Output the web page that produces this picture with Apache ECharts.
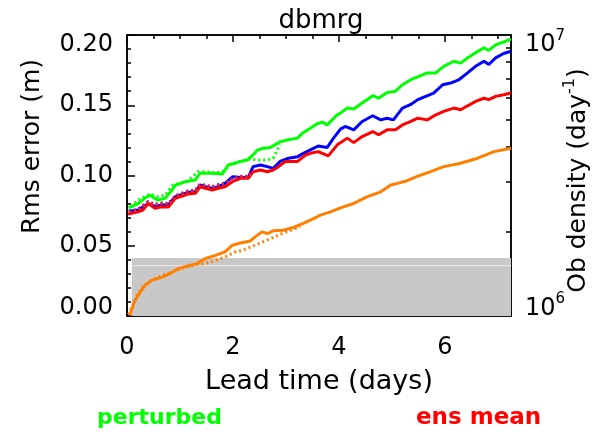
<!DOCTYPE html>
<html><head><meta charset="utf-8">
<script src="https://cdn.jsdelivr.net/npm/echarts@6/dist/echarts.min.js"></script>
<style>html,body{margin:0;padding:0;background:#fff}#c{width:594px;height:438px}</style>
</head><body><div id="c"></div>
<script>
// ---- data: [lead time (days), rms error (m)] ----
const perturbedSolid = [[0.03,0.077],[0.21,0.080],[0.34,0.084],[0.44,0.086],[0.57,0.0825],[0.72,0.0837],[0.85,0.0896],[0.91,0.093],[1.10,0.0956],[1.29,0.0968],[1.38,0.1016],[1.61,0.1016],[1.80,0.101],[1.91,0.1075],[2.04,0.1087],[2.14,0.110],[2.27,0.111],[2.38,0.1146],[2.46,0.118],[2.57,0.1194],[2.71,0.120],[2.89,0.124],[3.05,0.1254],[3.22,0.1266],[3.31,0.130],[3.46,0.1337],[3.59,0.1368],[3.69,0.138],[3.78,0.136],[3.97,0.1432],[4.03,0.1444],[4.16,0.148],[4.28,0.1473],[4.44,0.1516],[4.64,0.1568],[4.75,0.155],[4.91,0.159],[5.07,0.160],[5.20,0.1646],[5.35,0.168],[5.51,0.1706],[5.67,0.173],[5.83,0.173],[5.98,0.1777],[6.17,0.1813],[6.30,0.180],[6.43,0.1837],[6.58,0.1873],[6.74,0.1909],[6.83,0.189],[6.96,0.193],[7.11,0.195],[7.25,0.197]];
const perturbedDotted = [[0.08,0.0777],[0.21,0.0825],[0.34,0.085],[0.44,0.0868],[0.57,0.0849],[0.72,0.086],[0.87,0.0932],[1.00,0.0944],[1.15,0.0961],[1.34,0.1027],[1.48,0.1027],[1.63,0.102],[1.80,0.1025],[1.95,0.108],[2.14,0.110],[2.33,0.112],[2.48,0.111],[2.65,0.111],[2.76,0.1123],[2.89,0.122]];
const controlSolid = [[0.03,0.0745],[0.21,0.0755],[0.40,0.080],[0.53,0.078],[0.66,0.079],[0.78,0.079],[0.91,0.085],[1.04,0.0865],[1.15,0.088],[1.29,0.0885],[1.38,0.0932],[1.48,0.092],[1.61,0.091],[1.72,0.092],[1.85,0.0944],[1.99,0.0991],[2.14,0.0985],[2.29,0.0985],[2.38,0.1063],[2.52,0.1075],[2.65,0.1063],[2.76,0.1051],[2.89,0.110],[3.05,0.1123],[3.22,0.1134],[3.33,0.1158],[3.50,0.119],[3.61,0.121],[3.78,0.120],[3.90,0.1266],[4.03,0.133],[4.12,0.1349],[4.28,0.1325],[4.44,0.1384],[4.64,0.1425],[4.79,0.1396],[4.91,0.1408],[5.03,0.1396],[5.20,0.148],[5.35,0.1504],[5.49,0.154],[5.64,0.1563],[5.79,0.1587],[5.96,0.1646],[6.11,0.1658],[6.26,0.168],[6.43,0.173],[6.58,0.1777],[6.74,0.1813],[6.83,0.179],[6.96,0.1837],[7.11,0.1868],[7.25,0.1884]];
const controlDotted = [[0.04,0.0745],[0.21,0.0760],[0.40,0.0815],[0.53,0.0795],[0.66,0.0805],[0.78,0.080],[0.91,0.0855],[1.04,0.0875],[1.15,0.089],[1.29,0.0895],[1.38,0.094],[1.48,0.093],[1.61,0.092],[1.72,0.0935],[1.85,0.0945],[1.99,0.098],[2.14,0.0995],[2.29,0.0995],[2.38,0.1035]];
const ensMeanSolid = [[0.02,0.0725],[0.21,0.0741],[0.30,0.0754],[0.40,0.080],[0.53,0.0766],[0.66,0.0777],[0.78,0.0775],[0.91,0.0837],[1.04,0.0854],[1.15,0.0868],[1.29,0.0873],[1.38,0.092],[1.48,0.0909],[1.61,0.0896],[1.72,0.0909],[1.85,0.092],[1.99,0.0956],[2.14,0.098],[2.29,0.098],[2.38,0.1027],[2.52,0.1039],[2.65,0.1027],[2.76,0.1039],[2.86,0.1063],[2.99,0.110],[3.22,0.110],[3.37,0.1146],[3.46,0.1158],[3.61,0.117],[3.80,0.114],[3.97,0.1218],[4.16,0.1266],[4.28,0.1234],[4.44,0.1277],[4.64,0.1313],[4.75,0.129],[4.91,0.1325],[5.07,0.1325],[5.20,0.136],[5.35,0.1384],[5.49,0.1408],[5.67,0.1396],[5.83,0.1432],[5.98,0.1456],[6.17,0.148],[6.30,0.1468],[6.43,0.1496],[6.58,0.1527],[6.74,0.155],[6.83,0.154],[6.96,0.1563],[7.11,0.1575],[7.25,0.1587]];
const ensMeanDotted = [[0.04,0.0740],[0.21,0.0755],[0.40,0.081],[0.53,0.079],[0.66,0.080],[0.78,0.0795],[0.91,0.085],[1.04,0.087],[1.15,0.0885],[1.29,0.089],[1.38,0.0935],[1.48,0.0925],[1.61,0.0915],[1.72,0.093],[1.85,0.094],[1.99,0.0975],[2.14,0.099],[2.29,0.099],[2.38,0.103]];
const spreadSolid = [[0.05,0.0004],[0.15,0.011],[0.25,0.017],[0.34,0.0218],[0.47,0.0254],[0.66,0.0277],[0.81,0.0301],[0.97,0.0337],[1.15,0.0356],[1.32,0.0373],[1.48,0.0409],[1.67,0.0432],[1.85,0.0456],[1.99,0.0504],[2.14,0.052],[2.33,0.0534],[2.42,0.0563],[2.55,0.0599],[2.65,0.0587],[2.76,0.0606],[2.95,0.061],[3.14,0.063],[3.33,0.0659],[3.46,0.0682],[3.59,0.0706],[3.65,0.0718],[3.84,0.0741],[4.03,0.077],[4.28,0.0801],[4.54,0.0849],[4.79,0.0884],[4.98,0.0932],[5.16,0.0949],[5.29,0.0963],[5.49,0.0996],[5.73,0.1027],[5.98,0.1063],[6.30,0.1087],[6.62,0.1123],[6.93,0.117],[7.25,0.1194]];
const spreadDotted = [[0.03,0.001],[0.09,0.0063],[0.19,0.0146],[0.28,0.0201],[0.44,0.025],[0.62,0.028],[0.81,0.031],[1.00,0.0335],[1.19,0.0358],[1.32,0.0368],[1.48,0.0373],[1.67,0.0396],[1.85,0.042],[2.04,0.0456],[2.19,0.0468],[2.46,0.0511],[2.71,0.0551],[2.95,0.0591],[3.14,0.0616],[3.27,0.064]];
// ob density (per day), right log axis
const obDensityDays = [0.09, 7.25];
const obDensity = [1.6e6, 1.6e6];
const obDensityRefDays = [0.09, 7.25];
const obDensityRef = [1.51e6, 1.51e6];
// axis ranges / ticks
const xRange = [0, 7.25];
const yRange = [0, 0.2];
const obRange = [1e6, 1e7];
const obMinorTicks = [2e6, 3e6, 4e6, 5e6, 6e6, 7e6, 8e6, 9e6];

const FONT = '"DejaVu Sans", sans-serif';
const FS = 24;
const zip = (a, b) => a.map((v, i) => [v, b[i]]);

const chart = echarts.init(document.getElementById('c'), null, {renderer: 'canvas'});
const black = {color: '#000', width: 1.5};
const tickStyle = {color: '#000', width: 1.5};
const txt = {fontSize: FS, fontFamily: FONT, color: '#000'};
function xAx(pos, interval, tickLen, main) {
  return {
    type: 'value', position: pos, min: xRange[0], max: xRange[1], interval: interval,
    axisLine: {show: main, onZero: false, lineStyle: black},
    axisTick: {show: true, inside: true, length: tickLen, lineStyle: tickStyle},
    axisLabel: {show: main && pos === 'bottom', fontSize: FS, fontFamily: FONT, color: '#000', margin: 20, showMaxLabel: false,
      formatter: v => String(v)},
    splitLine: {show: false},
    name: (main && pos === 'bottom') ? 'Lead time (days)' : '',
    nameLocation: 'middle', nameGap: 52, nameMoveOverlap: false,
    nameTextStyle: {fontSize: 27, fontFamily: FONT, color: '#000'}
  };
}
const dotted = [2, 3];
function line(name, data, color, type, yIdx, z) {
  return {
    name: name, type: 'line', data: data, xAxisIndex: 0, yAxisIndex: yIdx || 0,
    showSymbol: false, symbol: 'none', smooth: false, z: z || 3, silent: true,
    lineStyle: {color: color, width: 3, type: type === 'solid' ? 'solid' : dotted},
    itemStyle: {color: color}
  };
}

chart.setOption({
  animation: false,
  backgroundColor: '#fff',
  title: {text: 'dbmrg', left: 316, top: 3, textAlign: 'center',
    textStyle: {fontSize: 26, fontWeight: 'normal', fontFamily: FONT, color: '#000'}},
  legend: [
    {data: [{name: 'perturbed', textStyle: {color: '#00ff00'}}], left: 87, top: 402, icon: 'none', itemWidth: 0, itemGap: 0,
     textStyle: {fontSize: 22, fontWeight: 'bold', fontFamily: FONT}, selectedMode: false},
    {data: [{name: 'ens mean', textStyle: {color: '#ff0000'}}], left: 406, top: 402, icon: 'none', itemWidth: 0, itemGap: 0,
     textStyle: {fontSize: 23, fontWeight: 'bold', fontFamily: FONT}, selectedMode: false}
  ],
  grid: {left: 127, right: 83, top: 35, bottom: 122, containLabel: false, outerBoundsMode: 'none',
    show: true, borderColor: '#000', borderWidth: 1.5, backgroundColor: 'transparent'},
  xAxis: [xAx('bottom', 2, 7, true), xAx('bottom', 0.5, 4, false), xAx('top', 2, 7, true), xAx('top', 0.5, 4, false)],
  yAxis: [
    {type: 'value', position: 'left', min: yRange[0], max: yRange[1], interval: 0.05,
     axisLine: {show: true, onZero: false, lineStyle: black},
     axisTick: {inside: true, length: 8, lineStyle: tickStyle},
     minorTick: {show: true, splitNumber: 5, length: 4, lineStyle: tickStyle},
     axisLabel: {fontSize: FS, fontFamily: FONT, color: '#000', margin: 14,
       formatter: v => {
         const s = v.toFixed(2);
         if (Math.abs(v - yRange[1]) < 1e-9) return '{t|' + s + '}';
         if (Math.abs(v - yRange[0]) < 1e-9) return '{b|' + s + '}';
         return s;
       },
       rich: {t: Object.assign({padding: [20, 0, 0, 0]}, txt), b: Object.assign({padding: [0, 0, 16, 0]}, txt)}},
     splitLine: {show: false},
     name: 'Rms error (m)', nameLocation: 'middle', nameGap: 82, nameMoveOverlap: false,
     nameTextStyle: {fontSize: 25, fontFamily: FONT, color: '#000', padding: [0, 0, 0, 58]}},
    {type: 'log', logBase: 10, position: 'right', min: obRange[0], max: obRange[1],
     axisLine: {show: true, onZero: false, lineStyle: black},
     axisTick: {inside: true, length: 5, customValues: obMinorTicks, lineStyle: tickStyle},
     axisLabel: {fontSize: FS, fontFamily: FONT, color: '#000', margin: 14, showMinLabel: true, showMaxLabel: true,
       formatter: v => {
         const e = Math.round(Math.log10(v));
         return v >= obRange[1] ? '{bt|10}{st|' + e + '}' : '{bb|10}{sb|' + e + '}';
       },
       rich: {
         bt: Object.assign({padding: [20, 0, 0, 0]}, txt),
         st: {fontSize: 15, fontFamily: FONT, color: '#000', padding: [2, 0, 0, 0]},
         bb: Object.assign({padding: [0, 0, 14, 0]}, txt),
         sb: {fontSize: 15, fontFamily: FONT, color: '#000', padding: [0, 0, 34, 0]}
       }},
     splitLine: {show: false},
     name: 'Ob density (day{s|-1})', nameLocation: 'middle', nameGap: 51, nameMoveOverlap: false,
     nameTextStyle: {fontSize: 25, fontFamily: FONT, color: '#000', padding: [0, 10, 0, 0],
       rich: {s: {fontSize: 16, fontFamily: FONT, color: '#000', padding: [0, 0, 16, 0]}}}}
  ],
  series: [
    {name: 'ob density', type: 'line', xAxisIndex: 0, yAxisIndex: 1, data: zip(obDensityDays, obDensity),
     symbol: 'none', silent: true, z: 1, lineStyle: {color: '#c8c8c8', width: 1},
     areaStyle: {color: '#c8c8c8', opacity: 1, origin: 'start'}},
    {name: 'ob density ref', type: 'line', xAxisIndex: 0, yAxisIndex: 1, data: zip(obDensityRefDays, obDensityRef),
     symbol: 'none', silent: true, z: 2, lineStyle: {color: '#ececec', width: 1}},
    line('spread', spreadSolid, '#ff8000', 'solid'),
    line('spread dotted', spreadDotted, '#ff8000', 'dotted'),
    line('control', controlSolid, '#0000ff', 'solid'),
    line('ens mean', ensMeanSolid, '#ff0000', 'solid'),
    line('perturbed', perturbedSolid, '#00ff00', 'solid'),
    line('control dotted', controlDotted, '#8000c0', 'dotted', 0, 4),
    line('ens mean dotted', ensMeanDotted, '#ff2020', 'dotted', 0, 4),
    line('perturbed dotted', perturbedDotted, '#00ff00', 'dotted', 0, 4)
  ]
});
</script>
</body></html>
